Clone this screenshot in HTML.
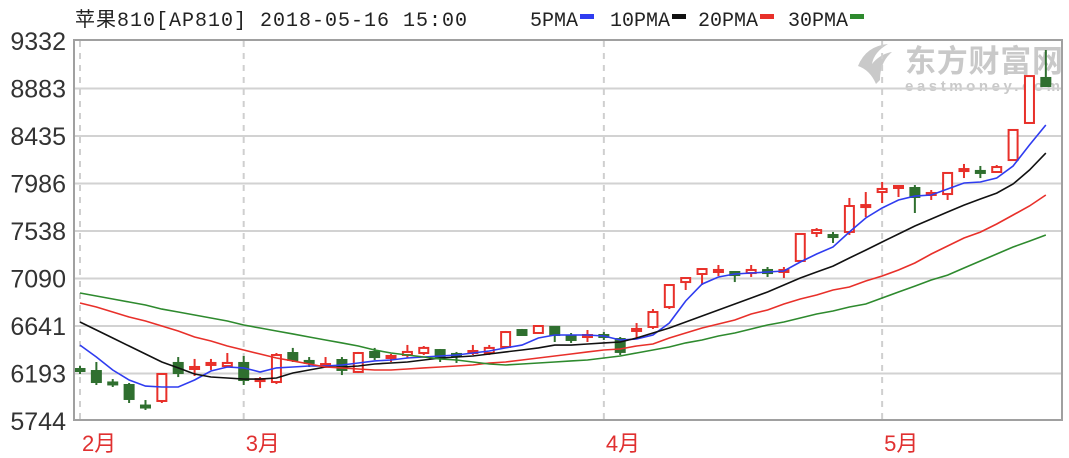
<!DOCTYPE html>
<html><head><meta charset="utf-8">
<style>
html,body{margin:0;padding:0;background:#fff;width:1069px;height:458px;overflow:hidden}
svg{display:block}
</style></head>
<body>
<svg id="chart" width="1069" height="458" viewBox="0 0 1069 458" xmlns="http://www.w3.org/2000/svg">
<g fill="#c9c9c9">
<path d="M858 66 Q866 46 888 44 Q874 52 872 64 Q880 54 892 52 Q880 62 880 80 L876 84 Q870 70 858 66Z"/>
<text x="905" y="72" font-family="'Noto Sans CJK SC','WenQuanYi Zen Hei',sans-serif" font-weight="bold" font-size="31" textLength="158">东方财富网</text>
<text x="905" y="91" font-family="'Liberation Sans',sans-serif" font-weight="bold" font-size="15" textLength="155">eastmoney.com</text>
</g>
<text x="75" y="26" font-family="'Liberation Mono','Noto Sans CJK SC',monospace" font-size="20" fill="#222" textLength="392">苹果810[AP810] 2018-05-16 15:00</text>
<g id="legend" font-family="'Liberation Mono',monospace" font-size="20" fill="#222"></g>
<g id="grid"></g>
<g id="ylabels" font-family="'Liberation Sans',sans-serif" font-size="25" fill="#333" text-anchor="end"></g>
<g id="xlabels" font-family="'Liberation Sans','Noto Sans CJK SC',sans-serif" font-size="22" fill="#e03030"></g>
<g id="candles"></g>
<g id="mas"></g>
<rect x="74" y="40" width="988" height="380" fill="none" stroke="#a0a0a0" stroke-width="2"/>
</svg>
<script>
const yTicks = [9332, 8883, 8435, 7986, 7538, 7090, 6641, 6193, 5744];
const monthIdx = [0, 10, 32, 49];
const monthText = ['2月', '3月', '4月', '5月'];
const open  = [6235,6216,6108,6084,5890,5933,6292,6235,6273,6263,6292,6122,6112,6386,6311,6263,6320,6207,6396,6339,6367,6386,6414,6377,6386,6386,6443,6603,6575,6632,6547,6537,6556,6518,6594,6632,6820,7056,7132,7151,7151,7141,7170,7151,7255,7519,7500,7529,7765,7906,7944,7944,7878,7887,8105,8105,8095,8208,8558,8983];
const high  = [6263,6301,6140,6103,5942,6188,6348,6330,6330,6386,6358,6159,6386,6434,6348,6348,6348,6396,6434,6377,6462,6452,6424,6396,6462,6462,6594,6613,6650,6641,6575,6603,6584,6537,6669,6801,7028,7094,7179,7217,7151,7217,7198,7198,7510,7566,7529,7850,7906,8001,7963,7972,7925,8095,8171,8152,8161,8492,9001,9247];
const low   = [6188,6084,6065,5914,5848,5914,6159,6169,6226,6254,6084,6055,6093,6301,6254,6245,6178,6197,6320,6301,6339,6367,6301,6292,6367,6367,6434,6547,6566,6490,6481,6490,6509,6367,6528,6613,6801,6981,7028,7113,7056,7104,7104,7094,7245,7481,7425,7500,7670,7802,7859,7708,7831,7831,8038,8038,8095,8199,8558,8898];
const close = [6226,6112,6098,5952,5881,6188,6197,6254,6292,6292,6131,6140,6367,6320,6292,6282,6226,6386,6348,6358,6396,6434,6348,6358,6405,6434,6584,6556,6641,6556,6509,6556,6537,6396,6613,6773,7028,7094,7179,7170,7122,7170,7141,7170,7510,7547,7481,7774,7783,7935,7963,7859,7897,8086,8123,8086,8142,8492,9001,8907];
const ma5  = [6461,6348,6226,6131,6074,6065,6065,6131,6216,6254,6245,6207,6245,6254,6263,6263,6273,6292,6311,6320,6339,6348,6358,6367,6386,6405,6434,6461,6528,6556,6556,6556,6547,6509,6518,6556,6669,6877,7037,7104,7132,7141,7151,7160,7245,7321,7387,7529,7661,7755,7831,7868,7878,7935,7991,8001,8038,8152,8350,8539];
const ma10 = [6679,6603,6528,6452,6377,6301,6245,6188,6159,6150,6140,6140,6150,6197,6226,6254,6254,6263,6282,6292,6301,6320,6339,6348,6358,6377,6396,6414,6434,6461,6461,6471,6481,6490,6528,6575,6622,6679,6735,6792,6849,6905,6962,7028,7094,7151,7207,7283,7358,7434,7510,7585,7651,7717,7783,7840,7896,7982,8114,8274];
const ma20 = [6858,6820,6773,6726,6688,6641,6594,6537,6499,6452,6414,6377,6339,6311,6282,6254,6245,6235,6226,6226,6235,6245,6254,6263,6273,6292,6301,6320,6339,6358,6377,6396,6414,6424,6452,6471,6528,6575,6622,6660,6698,6754,6792,6849,6896,6934,6981,7009,7066,7113,7170,7236,7321,7396,7472,7528,7604,7689,7774,7878];
const ma30 = [6953,6924,6896,6868,6839,6801,6773,6745,6717,6688,6650,6622,6594,6566,6537,6509,6481,6452,6414,6386,6367,6348,6330,6320,6301,6282,6273,6282,6292,6301,6311,6320,6339,6358,6386,6414,6443,6481,6509,6547,6575,6613,6650,6679,6717,6754,6783,6820,6849,6905,6962,7018,7075,7122,7189,7255,7321,7387,7443,7500];
const legendNames = ['5PMA', '10PMA', '20PMA', '30PMA'];

const NS = 'http://www.w3.org/2000/svg';
const PT = 41, PB = 421, YMAX = 9332, YMIN = 5744;
const X0 = 80, DX = 16.37;
const y = v => PT + (YMAX - v) / (YMAX - YMIN) * (PB - PT);
const x = i => X0 + i * DX;
function mk(tag, attrs, parent) {
  const el = document.createElementNS(NS, tag);
  for (const k in attrs) el.setAttribute(k, attrs[k]);
  parent.appendChild(el);
  return el;
}
const grid = document.getElementById('grid');
const yl = document.getElementById('ylabels');
yTicks.forEach((t, k) => {
  if (k > 0 && k < yTicks.length - 1) {
    const ln = mk('line', {x1: 74, x2: 1062, y1: y(t), y2: y(t), stroke: '#d2d2d2', 'stroke-width': 2}, grid);
    
    
  }
  const tx = mk('text', {x: 66, y: y(t) + 9}, yl);
  tx.textContent = t;
  
  
});
const xl = document.getElementById('xlabels');
monthIdx.forEach((m, k) => {
  const ln = mk('line', {x1: x(m), x2: x(m), y1: 41, y2: 420, stroke: '#cfcfcf', 'stroke-width': 2, 'stroke-dasharray': '6,6'}, grid);
  
  
  const tx = mk('text', {x: x(m) + 2, y: 451}, xl);
  tx.textContent = monthText[k];
  
  
});
const cg = document.getElementById('candles');
const RED = '#e8302a', GRN = '#2f6f2f';
close.forEach((c, i) => {
  const o = open[i], up = c >= o, col = up ? RED : GRN;
  const g = mk('g', {}, cg);
  
  
  const top = y(Math.max(o, c)), bot = y(Math.min(o, c));
  const cx = x(i), w = 9;
  mk('line', {x1: cx, x2: cx, y1: y(high[i]), y2: top, stroke: col, 'stroke-width': 2}, g);
  mk('line', {x1: cx, x2: cx, y1: bot, y2: y(low[i]), stroke: col, 'stroke-width': 2}, g);
  const h = Math.max(bot - top, 2);
  if (up) mk('rect', {x: cx - w / 2, y: top, width: w, height: h, fill: '#fff', stroke: col, 'stroke-width': 2}, g);
  else mk('rect', {x: cx - w / 2 - 1, y: top - 1, width: w + 2, height: h + 2, fill: col}, g);
});
const mg = document.getElementById('mas');
const series = [[ma5, '#2f3cf0'], [ma10, '#111'], [ma20, '#e8302a'], [ma30, '#2e8a2e']];
const maNames = ['ma5-line', 'ma10-line', 'ma20-line', 'ma30-line'];
series.forEach(([arr, col], k) => {
  const p = mk('polyline', {points: arr.map((v, i) => x(i) + ',' + y(v).toFixed(1)).join(' '), fill: 'none', stroke: col, 'stroke-width': 1.6}, mg);
  
  
});
const lg = document.getElementById('legend');
const lx = [530, 610, 698, 788];
legendNames.forEach((n, k) => {
  const t = mk('text', {x: lx[k], y: 26}, lg);
  t.textContent = n;
  
  
  const r = mk('rect', {x: lx[k] + (n.length * 12) + 2, y: 14, width: 14, height: 5, fill: series[k][1]}, lg);
  
  
});
</script>
</body></html>
